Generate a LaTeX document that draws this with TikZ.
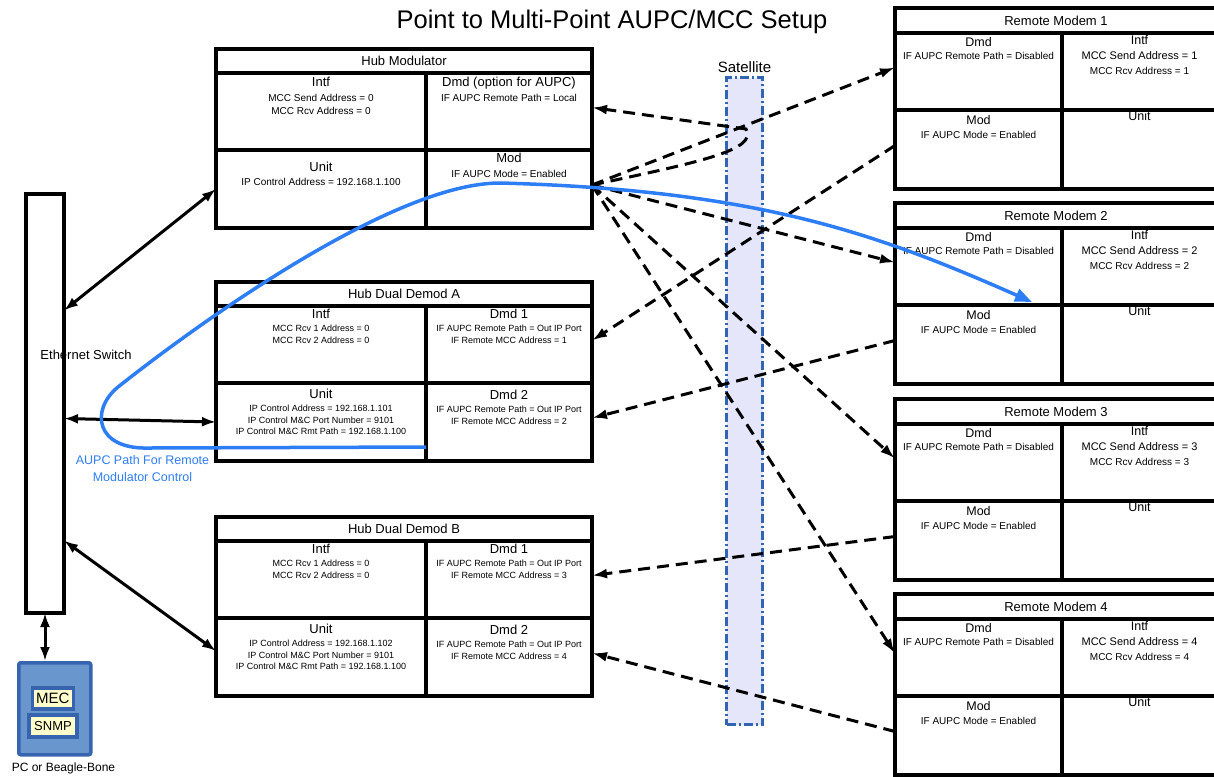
\documentclass[tikz,border=0pt]{standalone}
\usepackage{fontspec}
\setmainfont{Liberation Sans}
\usetikzlibrary{positioning,arrows.meta}

\definecolor{aupcblue}{RGB}{45,125,245}
\definecolor{satfill}{RGB}{230,230,250}
\definecolor{satline}{RGB}{50,100,180}
\definecolor{pcfill}{RGB}{105,150,205}
\definecolor{pcline}{RGB}{55,100,175}
\definecolor{tagfill}{RGB}{255,255,204}

\tikzset{
  cellbox/.style={draw, line width=3.5pt, inner sep=0pt, outer sep=0pt, anchor=north west},
  hdr/.style={font=\fontsize{13}{15}\selectfont, inner sep=1pt, text height=9.5pt, text depth=2.7pt},
  rhdr/.style={font=\fontsize{12.5}{15}\selectfont, inner sep=1pt, text height=9.2pt, text depth=2.6pt},
  info/.style={font=\fontsize{10}{13.3}\selectfont, inner sep=1pt, align=center},
  infos/.style={font=\fontsize{9}{11.5}\selectfont, inner sep=1pt, align=center},
  wire/.style={line width=3pt, {Latex[length=14pt,width=10pt]}-{Latex[length=14pt,width=10pt]}},
  radio/.style={line width=3pt, dash pattern=on 12pt off 7pt, -{Latex[length=15pt,width=10pt]}},
  aupc/.style={line width=3.5pt, draw=aupcblue, -{Triangle[length=17pt,width=13pt]}},
  pctag/.style={draw=pcline, fill=tagfill, line width=3.5pt, inner sep=0pt},
}

\begin{document}
\begin{tikzpicture}[x=1pt, y=-1pt]
\useasboundingbox (0,0) rectangle (1214,776);

% title
\node[anchor=base, font=\fontsize{25.5}{30}\selectfont] (title) at (612,29) {Point to Multi-Point AUPC/MCC Setup};

% satellite
\node[draw=satline, fill=satfill, line width=3pt, dash pattern=on 9pt off 3pt on 2pt off 3pt,
      minimum width=36pt, minimum height=647pt, anchor=north west, inner sep=0pt] (sat) at (725,76) {};
\node[font=\fontsize{15}{18}\selectfont, above=0pt of sat] (sat-label) {Satellite};

% ethernet switch and PC
\node[anchor=base, font=\fontsize{13}{15}\selectfont] (sw-label) at (86,359.5) {Ethernet Switch};
\node[cellbox, minimum width=38pt, minimum height=419pt] (sw) at (26,194) {};
\node[draw=pcline, fill=pcfill, line width=3.5pt, rounded corners=2pt, minimum width=72pt,
      minimum height=92pt, anchor=north west, inner sep=0pt] (pc) at (17,661) {};
\node[pctag, minimum width=41pt, minimum height=21pt, font=\fontsize{15}{18}\selectfont] (mec) at (52.8,698.5) {MEC};
\node[pctag, minimum width=48pt, minimum height=22pt, font=\fontsize{13}{15}\selectfont] (snmp) at (53,726) {SNMP};
\node[anchor=base, font=\fontsize{12}{15}\selectfont] (pc-label) at (63.5,771.5) {PC or Beagle-Bone};

% hub units
\foreach \n/\y/\t in {hm/49/Hub Modulator, da/282/Hub Dual Demod A, db/517/Hub Dual Demod B}{
  \node[cellbox, minimum width=376pt, minimum height=24pt, font=\fontsize{13}{15}\selectfont] (\n-title) at (216,\y) {\t};
  \node[cellbox, minimum width=210pt, minimum height=77pt] (\n-intf) at (216,\y+24) {};
  \node[cellbox, minimum width=166pt, minimum height=77pt] (\n-up) at (426,\y+24) {};
  \node[cellbox, minimum width=210pt, minimum height=78pt] (\n-unit) at (216,\y+101) {};
  \node[cellbox, minimum width=166pt, minimum height=78pt] (\n-low) at (426,\y+101) {};
}

\node[hdr, below=3pt of hm-intf.north] (hm-intf-h) {Intf};
\node[info, below=2pt of hm-intf-h] (hm-intf-t) {MCC Send Address = 0\\MCC Rcv Address = 0};
\node[hdr, below=3pt of hm-up.north] (hm-up-h) {Dmd (option for AUPC)};
\node[info, below=2pt of hm-up-h] (hm-up-t) {IF AUPC Remote Path = Local};
\node[hdr, below=10.5pt of hm-unit.north] (hm-unit-h) {Unit};
\node[info, below=2pt of hm-unit-h] (hm-unit-t) {IP Control Address = 192.168.1.100};
\node[hdr, below=2pt of hm-low.north] (hm-low-h) {Mod};
\node[info, below=2pt of hm-low-h] (hm-low-t) {IF AUPC Mode = Enabled};

\foreach \n/\a/\b/\ip in {da/1/2/101, db/3/4/102}{
  \node[hdr, below=1.5pt of \n-intf.north] (\n-intf-h) {Intf};
  \node[infos, below=2pt of \n-intf-h] (\n-intf-t) {MCC Rcv 1 Address = 0\\MCC Rcv 2 Address = 0};
  \node[hdr, below=1.5pt of \n-up.north] (\n-up-h) {Dmd 1};
  \node[infos, below=2pt of \n-up-h] (\n-up-t) {IF AUPC Remote Path = Out IP Port\\IF Remote MCC Address = \a};
  \node[hdr, below=4.5pt of \n-unit.north] (\n-unit-h) {Unit};
  \node[infos, below=2pt of \n-unit-h] (\n-unit-t) {IP Control Address = 192.168.1.\ip\\IP Control M\&C Port Number = 9101\\IP Control M\&C Rmt Path = 192.168.1.100};
  \node[hdr, below=5.5pt of \n-low.north] (\n-low-h) {Dmd 2};
  \node[infos, below=2pt of \n-low-h] (\n-low-t) {IF AUPC Remote Path = Out IP Port\\IF Remote MCC Address = \b};
}

% remote modems
\foreach \i/\y in {1/8,2/203,3/399,4/594}{
  \node[cellbox, minimum width=322pt, minimum height=25pt, font=\fontsize{13}{15}\selectfont] (rm\i-title) at (895,\y) {Remote Modem \i};
  \node[cellbox, minimum width=167pt, minimum height=77pt] (rm\i-dmd) at (895,\y+25) {};
  \node[cellbox, minimum width=155pt, minimum height=77pt] (rm\i-intf) at (1062,\y+25) {};
  \node[cellbox, minimum width=167pt, minimum height=79pt] (rm\i-mod) at (895,\y+102) {};
  \node[cellbox, minimum width=155pt, minimum height=79pt] (rm\i-unit) at (1062,\y+102) {};
  \node[rhdr, below=3pt of rm\i-dmd.north] (rm\i-dmd-h) {Dmd};
  \node[info, below=1.2pt of rm\i-dmd-h] (rm\i-dmd-t) {IF AUPC Remote Path = Disabled};
  \node[rhdr, below=1.3pt of rm\i-intf.north] (rm\i-intf-h) {Intf};
  \node[info, font=\fontsize{11}{13}\selectfont, below=2pt of rm\i-intf-h] (rm\i-send) {MCC Send Address = \i};
  \node[info, below=5pt of rm\i-send] (rm\i-rcv) {MCC Rcv Address = \i};
  \node[rhdr, below=4pt of rm\i-mod.north] (rm\i-mod-h) {Mod};
  \node[info, below=2pt of rm\i-mod-h] (rm\i-mod-t) {IF AUPC Mode = Enabled};
  \node[rhdr, below=0.5pt of rm\i-unit.north] (rm\i-unit-h) {Unit};
}

% ethernet links
\draw[wire] ([yshift=93pt]sw.east) -- (hm-unit.west);
\draw[wire] ([yshift=-15pt]sw.east) -- (da-unit.west);
\draw[wire] ([yshift=-137pt]sw.east) -- ([yshift=6pt]db-unit.west);
\draw[wire] (sw.south) -- (sw.south |- pc.north);

% satellite links
\coordinate (hm-out) at ([yshift=4pt]hm-low.east);
\coordinate (sat-turn) at (746,129);
\foreach \i in {1,...,4}
  \draw[radio] (hm-out) -- ([yshift=4pt]rm\i-dmd.west);
\foreach \i/\c in {1/da-up, 2/da-low, 3/db-up, 4/db-low}
  \draw[radio] ([yshift=4pt]rm\i-mod.west) -- ([yshift=4pt]\c.east);
\draw[radio] (hm-out) .. controls (700,162) and (758,150) .. (sat-turn) -- ([yshift=4pt]hm-up.east);

% AUPC path
\coordinate (aupc-end) at (1032,302);
\draw[aupc] ([yshift=14pt]da-unit.south east) -- (150,448) .. controls (95,450) and (90,410) .. (118,387)
  .. controls (190,330) and (390,183) .. (500,183) .. controls (760,190) and (880,235) .. (aupc-end);
\node[align=center, text=aupcblue, font=\fontsize{12.5}{16.5}\selectfont, inner sep=1pt] (aupc-label) at (142.5,468.3) {AUPC Path For Remote\\Modulator Control};
\end{tikzpicture}
\end{document}
